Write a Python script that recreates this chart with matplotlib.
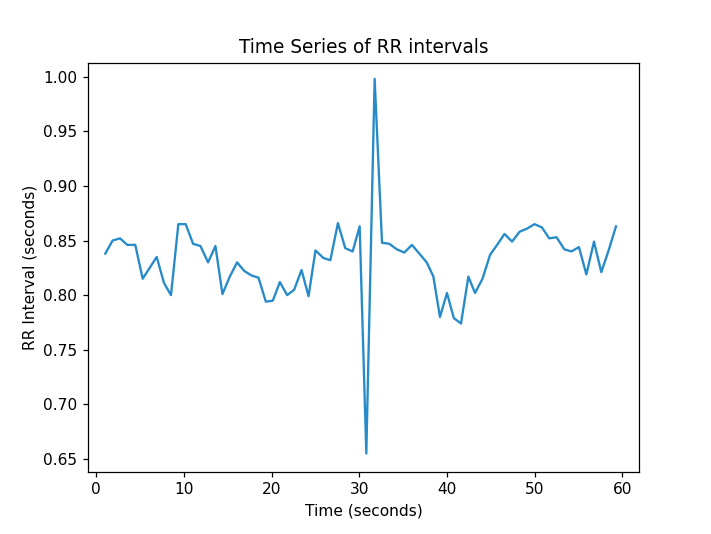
#Time series of RR intervals
import numpy as np
import matplotlib
matplotlib.use("Agg")
import matplotlib.pyplot as plt

# time stamps (seconds)
time_s = [1.03, 1.86, 2.70, 3.54, 4.45, 5.29, 6.09, 6.89, 7.73, 8.52,
          9.36, 10.20, 11.04, 11.88, 12.75, 13.59, 14.39, 15.23, 16.06, 16.90,
          17.70, 18.50, 19.34, 20.14, 20.94, 21.77, 22.57, 23.41, 24.21, 25.00,
          25.90, 26.70, 27.56, 28.40, 29.24, 30.04, 30.80, 31.75, 32.59, 33.42,
          34.27, 35.13, 36.00, 36.85, 37.69, 38.45, 39.20, 40.00, 40.78, 41.60,
          42.44, 43.20, 44.05, 44.92, 45.72, 46.56, 47.43, 48.27, 49.15, 49.98,
          50.83, 51.66, 52.50, 53.38, 54.20, 55.05, 55.90, 56.77, 57.60, 58.44,
          59.28]

# RR interval values (seconds)
rr_s = [0.838, 0.850, 0.852, 0.846, 0.846, 0.815, 0.825, 0.835, 0.811, 0.800,
        0.865, 0.865, 0.847, 0.845, 0.830, 0.845, 0.801, 0.817, 0.830, 0.822,
        0.818, 0.816, 0.794, 0.795, 0.812, 0.800, 0.805, 0.823, 0.799, 0.841,
        0.834, 0.832, 0.866, 0.843, 0.840, 0.863, 0.655, 0.998, 0.848, 0.847,
        0.842, 0.839, 0.846, 0.838, 0.830, 0.817, 0.780, 0.802, 0.779, 0.774,
        0.817, 0.802, 0.815, 0.837, 0.846, 0.856, 0.849, 0.858, 0.861, 0.865,
        0.862, 0.852, 0.853, 0.842, 0.840, 0.844, 0.819, 0.849, 0.821, 0.841,
        0.863]

def plot_rr():
    dpi = 111.2
    fig = plt.figure(figsize=(711 / dpi, 534 / dpi), dpi=dpi)
    fig.subplots_adjust(left=0.1242, right=0.8987, bottom=0.1167, top=0.8826)
    ax = fig.add_subplot(111)
    ax.plot(time_s, rr_s, color="#268bc8")

    ax.set_xlim(-0.91, 61.9)
    ax.set_ylim(0.6384, 1.0128)

    ax.set_title("Time Series of RR intervals")
    ax.set_xlabel("Time (seconds)")
    ax.set_ylabel("RR Interval (seconds)")

    fig.savefig("out.png", dpi=dpi)

def main():
    plot_rr()

if __name__ == "__main__":
    main()
